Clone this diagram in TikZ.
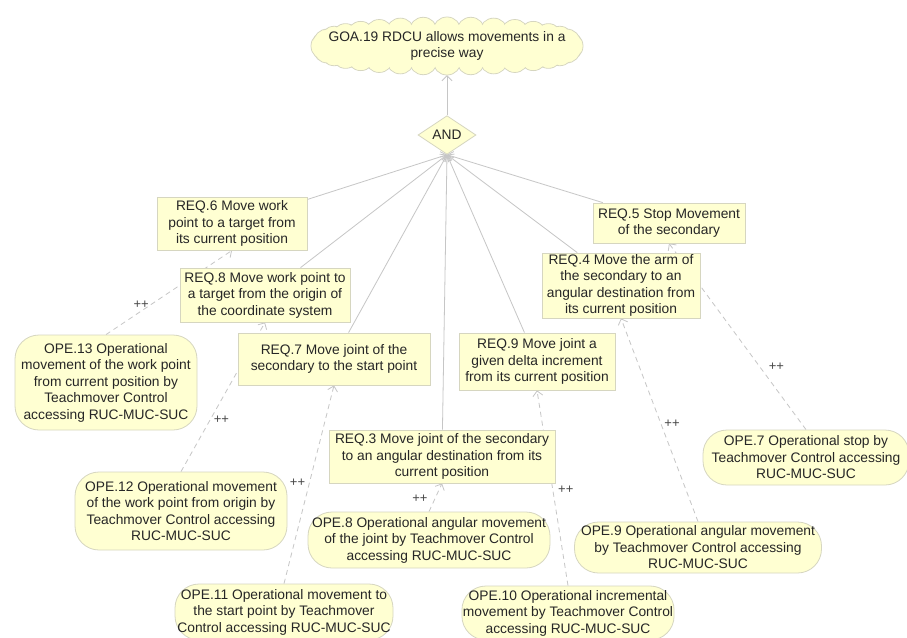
\documentclass[tikz,border=0pt]{standalone}
\usepackage{fontspec}
\setmainfont{Liberation Sans}
\usetikzlibrary{shapes.geometric,arrows.meta,backgrounds}

\definecolor{boxfill}{RGB}{255,255,210}
\definecolor{boxline}{RGB}{214,214,192}
\definecolor{wire}{RGB}{198,198,198}
\definecolor{ink}{RGB}{38,38,38}

\tikzset{
  base/.style={font=\fontsize{13.8}{16.5}\selectfont, text=ink, align=center, inner sep=1pt},
  reqbox/.style={base, rectangle, draw=boxline, fill=boxfill, line width=0.8pt},
  opebox/.style={base, rectangle, rounded corners=24pt, draw=boxline, fill=boxfill, line width=0.8pt},
  andgate/.style={base, diamond, draw=boxline, fill=boxfill, line width=0.8pt,
    minimum width=58pt, minimum height=37pt, inner sep=0pt},
  andlink/.style={draw=wire, line width=0.8pt, -{Straight Barb[length=5pt,width=10pt]}},
  contrib/.style={andlink, dash pattern=on 5pt off 4pt},
  plus/.style={font=\fontsize{13}{14}\selectfont, text=ink!85, inner sep=1pt},
}

\begin{document}
\begin{tikzpicture}[x=1pt,y=-1pt]
\useasboundingbox (0,0) rectangle (907,637);
\begin{scope}[on background layer]
  \fill[white] (0,0) rectangle (907,637);
\end{scope}

% goal cloud: ring of puffs around a flat ellipse
\foreach \k in {0,...,31}
  \filldraw[draw=boxline, fill=boxfill, line width=0.8pt]
    ({447+122*cos(\k*11.25)},{46+15*sin(\k*11.25)}) circle[radius=14pt];
\foreach \k in {0,...,31}
  \fill[boxfill] ({447+122*cos(\k*11.25)},{46+15*sin(\k*11.25)}) circle[radius=13.2pt];
\fill[boxfill] (447,46) ellipse[x radius=122pt, y radius=15pt];
\node[base, minimum width=270pt, minimum height=58pt] (goa) at (447,46)
  {GOA.19 RDCU allows movements in a\\precise way};

\node[andgate] (and) at (447,135) {AND};

% requirements
\node[reqbox, minimum width=150pt, minimum height=53pt] (req6) at (232,223.5)
  {REQ.6 Move work\\point to a target from\\its current position};
\node[reqbox, minimum width=170pt, minimum height=54pt] (req8) at (265,295)
  {REQ.8 Move work point to\\a target from the origin of\\the coordinate system};
\node[reqbox, minimum width=152pt, minimum height=40pt] (req5) at (669,223)
  {REQ.5 Stop Movement\\of the secondary};
\node[reqbox, minimum width=158pt, minimum height=65pt] (req4) at (621,285.5)
  {REQ.4 Move the arm of\\the secondary to an\\angular destination from\\its current position};
\node[reqbox, minimum width=192pt, minimum height=52pt] (req7) at (334,359)
  {REQ.7 Move joint of the\\secondary to the start point};
\node[reqbox, minimum width=156pt, minimum height=57pt] (req9) at (537,361.5)
  {REQ.9 Move joint a\\given delta increment\\from its current position};
\node[reqbox, minimum width=226pt, minimum height=53pt] (req3) at (442,456.5)
  {REQ.3 Move joint of the secondary\\to an angular destination from its\\current position};

% operationalisations
\node[opebox, minimum width=182pt, minimum height=95pt] (ope13) at (106,382.5)
  {OPE.13 Operational\\movement of the work point\\from current position by\\Teachmover Control\\accessing RUC-MUC-SUC};
\node[opebox, minimum width=212pt, minimum height=78pt] (ope12) at (181,511)
  {OPE.12 Operational movement\\of the work point from origin by\\Teachmover Control accessing\\RUC-MUC-SUC};
\node[opebox, minimum width=242pt, minimum height=56pt] (ope8) at (429,540)
  {OPE.8 Operational angular movement\\of the joint by Teachmover Control\\accessing RUC-MUC-SUC};
\node[opebox, minimum width=218pt, minimum height=56pt] (ope11) at (284,612)
  {OPE.11 Operational movement to\\the start point by Teachmover\\Control accessing RUC-MUC-SUC};
\node[opebox, minimum width=212pt, minimum height=54pt] (ope10) at (568,613)
  {OPE.10 Operational incremental\\movement by Teachmover Control\\accessing RUC-MUC-SUC};
\node[opebox, minimum width=247pt, minimum height=51pt] (ope9) at (698,547.5)
  {OPE.9 Operational angular movement\\by Teachmover Control accessing\\RUC-MUC-SUC};
\node[opebox, minimum width=206pt, minimum height=55pt] (ope7) at (806,457.5)
  {OPE.7 Operational stop by\\Teachmover Control accessing\\RUC-MUC-SUC};

\begin{scope}[on background layer]
  \draw[andlink] (and.north) -- (goa.south);
  \foreach \r in {req6,req8,req7,req3,req9,req4,req5}
    \draw[andlink] (\r) -- (and.south);

  \draw[contrib] (ope13.north) -- node[plus, pos=0.35, anchor=east] {++} (req6.south);
  \draw[contrib] (ope12.north) -- node[plus, pos=0.35, anchor=west, xshift=2pt] {++} (req8.south);
  \draw[contrib] (ope11.north) -- node[plus, pos=0.51, anchor=east, xshift=-3pt] {++} (req7.south);
  \draw[contrib] (ope8.north) -- node[plus, pos=0.45, anchor=east, xshift=-6pt] {++} (req3.south);
  \draw[contrib] (ope10.north) -- node[plus, pos=0.49, anchor=west, xshift=4pt] {++} (req9.south);
  \draw[contrib] (ope9.north) -- node[plus, pos=0.48, anchor=west, xshift=2pt] {++} (req4.south);
  \draw[contrib] (ope7.north) -- node[plus, pos=0.34, anchor=west, xshift=8pt] {++} (req5.south);
\end{scope}
\end{tikzpicture}
\end{document}
